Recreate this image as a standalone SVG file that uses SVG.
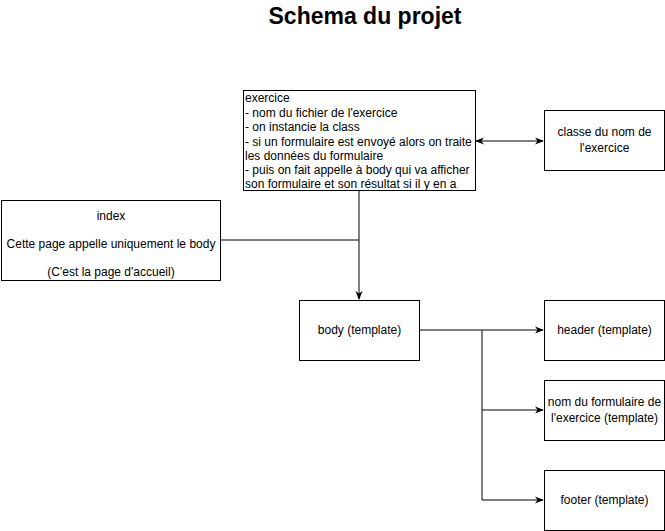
<svg xmlns="http://www.w3.org/2000/svg" width="665" height="531" viewBox="0 0 665 531">
<style>
.box{fill:#fff;stroke:#000;stroke-width:1}
.t{font-family:"Liberation Sans",Arial,sans-serif;font-size:12px;fill:#000}
.c{text-anchor:middle}
.ln{fill:none;stroke:#000;stroke-width:1}
</style>
<defs>
<marker id="ah" viewBox="0 0 10 10" refX="9" refY="5" markerWidth="9" markerHeight="9" orient="auto-start-reverse" markerUnits="userSpaceOnUse">
<path d="M0,1 L10,5 L0,9 L3,5 Z" fill="#000"/>
</marker>
</defs>
<rect width="665" height="531" fill="#fff"/>
<text x="365" y="24" font-family="'Liberation Sans',Arial,sans-serif" font-size="23" font-weight="bold" text-anchor="middle">Schema du projet</text>
<g id="connectors">
<line class="ln" x1="476" y1="141" x2="543" y2="141" marker-start="url(#ah)" marker-end="url(#ah)"/>
<polyline class="ln" points="359,190 359,299" marker-end="url(#ah)"/>
<line class="ln" x1="220" y1="240" x2="359" y2="240"/>
<polyline class="ln" points="419,330 543,330" marker-end="url(#ah)"/>
<polyline class="ln" points="482,330 482,410 543,410" marker-end="url(#ah)"/>
<polyline class="ln" points="482,410 482,500 543,500" marker-end="url(#ah)"/>
</g>
<g id="exercice">
<rect class="box" x="243.5" y="90.5" width="232" height="100"/>
<text class="t" x="245" y="102">exercice</text>
<text class="t" x="245" y="116.5">- nom du fichier de l'exercice</text>
<text class="t" x="245" y="131">- on instancie la class</text>
<text class="t" x="245" y="145.5">- si un formulaire est envoyé alors on traite</text>
<text class="t" x="245" y="160">les données du formulaire</text>
<text class="t" x="245" y="174">- puis on fait appelle à body qui va afficher</text>
<text class="t" x="245" y="188">son formulaire et son résultat si il y en a</text>
</g>
<g id="classe">
<rect class="box" x="544.5" y="110.5" width="120" height="60"/>
<text class="t c" x="604.5" y="136">classe du nom de</text>
<text class="t c" x="604.5" y="152">l'exercice</text>
</g>
<g id="index">
<rect class="box" x="1.5" y="200.5" width="219" height="80"/>
<text class="t c" x="111" y="220">index</text>
<text class="t c" x="111" y="248">Cette page appelle uniquement le body</text>
<text class="t c" x="111" y="276">(C'est la page d'accueil)</text>
</g>
<g id="body">
<rect class="box" x="299.5" y="300.5" width="120" height="60"/>
<text class="t c" x="359.5" y="334">body (template)</text>
</g>
<g id="header">
<rect class="box" x="544.5" y="300.5" width="120" height="60"/>
<text class="t c" x="604.5" y="334">header (template)</text>
</g>
<g id="formulaire">
<rect class="box" x="544.5" y="380.5" width="120" height="60"/>
<text class="t c" x="604.5" y="406">nom du formulaire de</text>
<text class="t c" x="604.5" y="422">l'exercice (template)</text>
</g>
<g id="footer">
<rect class="box" x="544.5" y="470.5" width="120" height="60"/>
<text class="t c" x="604.5" y="504">footer (template)</text>
</g>
</svg>
